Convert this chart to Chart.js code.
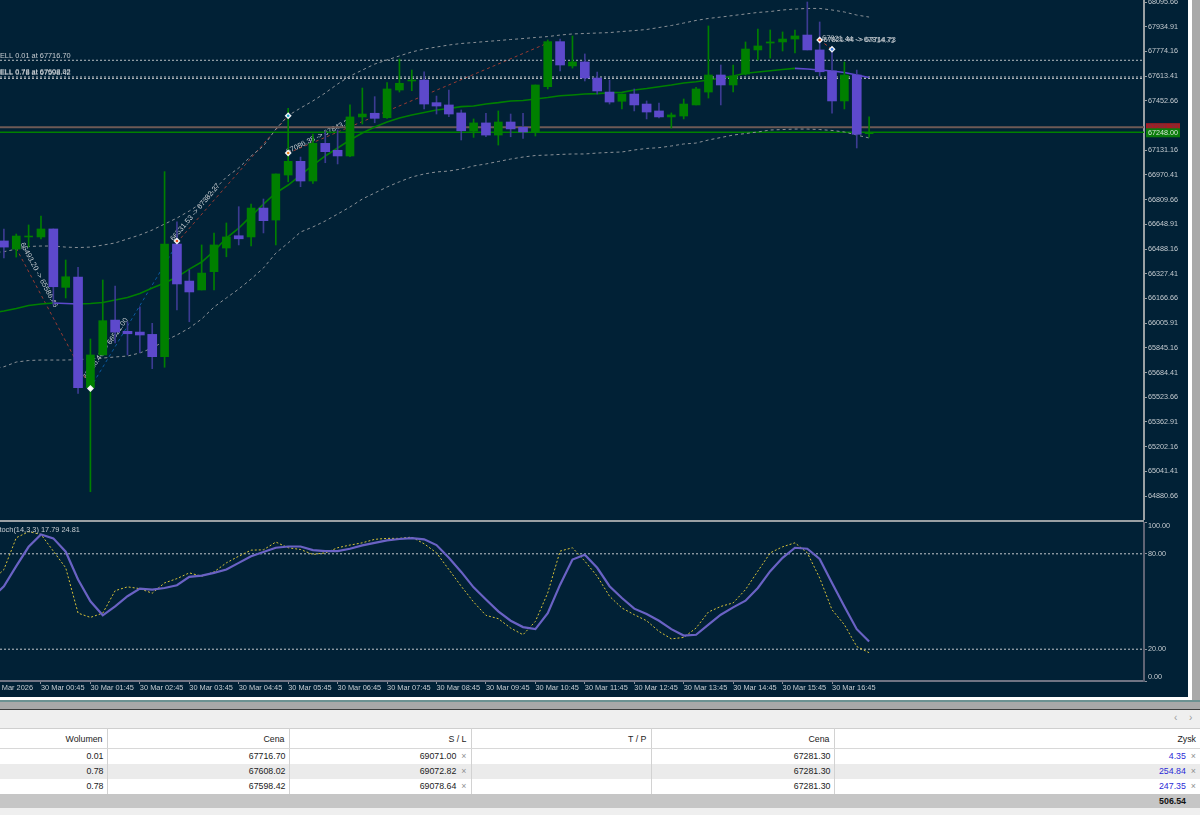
<!DOCTYPE html>
<html>
<head>
<meta charset="utf-8">
<title>Wykres</title>
<style>
  html, body { margin: 0; padding: 0; width: 1200px; height: 815px; overflow: hidden; background: #a9a9a9; }
  #panel { position: absolute; left: 0; top: 0; width: 1188px; height: 697px; background: #012136; overflow: hidden; }
  #edge { position: absolute; left: 1188px; top: 0; width: 4px; height: 700px; background: #fff; }
  #edgeBottom { position: absolute; left: 0; top: 697px; width: 1192px; height: 3px; background: #fff; }
  #teal { position: absolute; left: 0; top: 700px; width: 1200px; height: 2px; background: #6d9292; }
  #darkLine { position: absolute; left: 0; top: 709px; width: 1200px; height: 1px; background: #3f3f3f; }
  #tabs { position: absolute; left: 0; top: 710px; width: 1200px; height: 18px; background: #efefef; color: #9a9a9a; font: 10px "Liberation Sans"; }
  #tabs span { position: absolute; top: 2px; }
  canvas { position: absolute; left: -12px; }
  #price { top: 0; }
  #stoch { top: 522px; }
  #sep { position: absolute; left: 0; top: 520px; width: 1144px; height: 2px; background: #9aa0a4; z-index: 2; }
  #trades { position: absolute; left: 0; top: 728px; width: 1200px; border-collapse: collapse; table-layout: fixed;
    font: 8.8px "Liberation Sans"; color: #222; background: #fff; }
  #trades td { height: 15px; padding: 0 3px 0 0; text-align: right; border-right: 1px solid #d2d2d2; box-sizing: border-box; white-space: nowrap; overflow: hidden; }
  #trades td:last-child { border-right: 0; }
  #trades tr.head td { height: 20px; border-top: 1px solid #cfcfcf; border-bottom: 1px solid #d8d8d8; padding-right: 4px; }
  #trades tr.alt td { background: #ebebeb; }
  #trades tr.total td { height: 15px; background: #c6c6c6; border-right: 0; font-weight: bold; color: #111; }
  #trades i { font-style: normal; color: #8f8f8f; padding-left: 5px; padding-right: 1px; }
  #trades .zysk { color: #2b2bd6; }
  #foot { position: absolute; left: 0; top: 808px; width: 1200px; height: 7px; background: #efefef; }
</style>
</head>
<body>
<div id="panel">
  <canvas id="price" width="1200" height="520"></canvas>
  <canvas id="stoch" width="1200" height="175"></canvas>
  <div id="sep"></div>
</div>
<div id="edge"></div>
<div id="edgeBottom"></div>
<div id="teal"></div>
<div id="darkLine"></div>
<div id="tabs"><span style="left:1174px">&#8249;</span><span style="left:1189px">&#8250;</span></div>
<table id="trades">
  <colgroup>
    <col style="width:107px"><col style="width:182px"><col style="width:182px"><col style="width:180px"><col style="width:183px"><col style="width:366px">
  </colgroup>
  <tr class="head"><td>Wolumen</td><td>Cena</td><td>S / L</td><td>T / P</td><td>Cena</td><td>Zysk</td></tr>
  <tr><td>0.01</td><td>67716.70</td><td>69071.00<i>&#215;</i></td><td></td><td>67281.30</td><td class="zysk">4.35<i>&#215;</i></td></tr>
  <tr class="alt"><td>0.78</td><td>67608.02</td><td>69072.82<i>&#215;</i></td><td></td><td>67281.30</td><td class="zysk">254.84<i>&#215;</i></td></tr>
  <tr><td>0.78</td><td>67598.42</td><td>69078.64<i>&#215;</i></td><td></td><td>67281.30</td><td class="zysk">247.35<i>&#215;</i></td></tr>
  <tr class="total"><td></td><td></td><td></td><td></td><td></td><td style="padding-right:14px">506.54</td></tr>
</table>
<div id="foot"></div>

<script src="https://cdn.jsdelivr.net/npm/chart.js@4/dist/chart.umd.min.js"></script>
<script>
  // 15 minute candles, one per slot
  const candleOpen = [66541,66488,66567,66567,66619,66239,66306,65586,65799,66026,65953,65948,65933,65788,66521,66280,66222,66341,66495,66575,66567,66755,66677,66970,67059,66931,67176,67131,67094,67348,67372,67343,67523,67582,67588,67441,67426,67374,67256,67309,67230,67315,67281,67248,67545,67838,67680,67706,67601,67510,67450,67497,67432,67387,67348,67354,67426,67510,67621,67556,67627,67784,67829,67836,67855,67881,67784,67647,67452,67621,67239];
  const candleClose = [66501,66573,66573,66619,66243,66308,65586,65799,66022,65948,65937,65929,65788,66521,66261,66209,66332,66515,66567,66555,66755,66673,66977,67059,66931,67176,67122,67094,67348,67367,67339,67530,67567,67588,67432,67419,67367,67258,67309,67230,67315,67270,67250,67556,67838,67686,67706,67601,67517,67445,67497,67426,67380,67348,67361,67432,67530,67621,67556,67614,67790,67810,67836,67855,67875,67784,67642,67452,67621,67235,67248];
  const candleHigh = [66619,66586,66645,66703,66619,66417,66369,65903,66287,66248,66015,66113,66005,66992,66666,66352,66515,66593,66658,66764,66781,66814,66977,67404,67087,67237,67252,67263,67426,67536,67480,67571,67725,67653,67642,67484,67523,67393,67335,67372,67387,67367,67372,67556,67849,67855,67875,67758,67640,67588,67497,67530,67452,67439,67374,67465,67541,67940,67686,67686,67836,67920,67914,67901,67914,68096,67966,67805,67706,67653,67348];
  const candleLow = [66430,66436,66501,66554,66124,66170,65549,64909,65799,65877,65799,65814,65710,65719,66092,66015,66222,66222,66438,66515,66508,66593,66515,66926,66894,66916,67050,67042,67089,67302,67310,67339,67510,67519,67400,67367,67350,67198,67215,67219,67165,67219,67209,67224,67530,67647,67666,67582,67497,67432,67400,67387,67335,67341,67276,67335,67426,67471,67426,67510,67621,67719,67731,67777,67764,67784,67614,67372,67400,67146,67217];

  // indicator series start one slot before the first visible candle
  const bandMiddle = [66072,66085,66101,66121,66131,66137,66134,66131,66134,66140,66157,66173,66199,66235,66267,66306,66358,66404,66475,66560,66625,66703,66781,66853,66905,66970,67035,67094,67146,67198,67243,67282,67315,67341,67361,67377,67393,67403,67415,67419,67432,67441,67452,67455,67465,67474,67486,67491,67497,67500,67505,67508,67523,67533,67545,67556,67569,67577,67588,67601,67614,67632,67640,67649,67657,67664,67660,67653,67647,67637,67621,67605];
  const bandUpper = [66463,66471,66488,66505,66508,66508,66501,66498,66501,66514,66528,66554,66580,66612,66651,66690,66736,66788,66872,66957,67016,67094,67159,67269,67357,67406,67452,67504,67562,67614,67653,67692,67719,67745,67771,67790,67803,67816,67826,67832,67839,67845,67852,67858,67865,67871,67881,67888,67891,67894,67897,67904,67910,67917,67930,67943,67959,67976,67989,67998,68008,68018,68028,68034,68044,68050,68054,68054,68044,68031,68011,67998];
  const bandLower = [65708,65722,65753,65763,65766,65766,65766,65769,65773,65779,65786,65792,65812,65844,65890,65929,65974,66033,66111,66170,66228,66293,66365,66462,66528,66599,66632,66671,66716,66762,66814,66853,66892,66926,66957,66977,66990,66996,67009,67029,67042,67058,67074,67087,67097,67100,67104,67107,67107,67113,67117,67120,67133,67143,67148,67159,67172,67178,67198,67214,67230,67240,67250,67263,67266,67269,67269,67266,67260,67250,67230,67211];

  const stochMain = [52,59.6,72.2,84.4,92.2,89.7,81.3,63.8,50.1,41.3,46.9,53.3,58.1,57.5,58.5,60.2,65.5,66.3,68,70.1,74.3,78.5,81.1,83.8,84.6,84.6,82.3,81.7,81.7,83.2,85.3,86.9,88.4,89.3,89.9,89.1,85.5,77.5,68.6,58.9,51.2,43.8,37.9,33.9,32.6,42.7,60.6,76.4,79.4,71.2,59.6,52.2,45.5,42.1,37.9,32.6,28.6,29.1,35.4,41.7,46.3,50.5,58.5,69.1,77.5,83.8,83.2,76.8,61.7,46.9,32.6,24.81];
  const stochSignal = [62.7,70.1,90.1,93.9,92.2,81.7,71.2,42.7,40,42.7,56.8,59.2,58.1,55.2,61.7,64.4,68,65.9,68.6,74.3,78.5,82.3,82.5,87.4,83.8,82.7,79.6,80.6,83.8,85.5,86.9,89.1,89.7,89.7,90.5,86.3,80.6,70.1,59.6,49.7,41.3,39.2,33.3,29.1,37.5,55.4,81.7,83.8,75.4,65.9,53.3,45.9,41.7,37.9,31.2,26.5,27.4,33.3,43.4,46.9,49.1,57.5,69.1,80.6,84.4,86.9,80.6,64.8,44.8,35.4,21.7,17.79];

  const priceTicks = [68095.66,67934.91,67774.16,67613.41,67452.66,67131.16,66970.41,66809.66,66648.91,66488.16,66327.41,66166.66,66005.91,65845.16,65684.41,65523.66,65362.91,65202.16,65041.41,64880.66];
  const stochTicks = [0,20,80,100];
  const timeSlots = [-1,3,7,11,15,19,23,27,31,35,39,43,47,51,55,59,63,67];
  const timeLabels = ["30 Mar 2026","30 Mar 00:45","30 Mar 01:45","30 Mar 02:45","30 Mar 03:45","30 Mar 04:45","30 Mar 05:45","30 Mar 06:45","30 Mar 07:45","30 Mar 08:45","30 Mar 09:45","30 Mar 10:45","30 Mar 11:45","30 Mar 12:45","30 Mar 13:45","30 Mar 14:45","30 Mar 15:45","30 Mar 16:45"];

  const sellPrices = [67716.70,67608.02,67598.42];
  const bidPrice = 67281.30;
  const askPrice = 67248.00;

  // trade arrows: [slot, price] pairs
  const tradeSell1 = [[1,66493],[7,65586]];
  const tradeBuy1 = [[7,65586],[14,66521]];
  const tradeSell2 = [[14,66531],[23,67356]];
  const tradeSell3 = [[23,67113],[44,67829]];
  const tradeSell4 = [[66,67849],[67,67788]];
  const markerSlots = [7,14,23,23,66,67];
  const markerPrices = [65580,66541,67356,67113,67849,67788];
  const markerColors = ["#ffffff","#e8501e","#18a0c8","#e8801e","#e8501e","#3a7ae0"];

  const GREEN = "#008000";
  const PURPLE = "#5d49cc";
  const WICK_PURPLE = "#3c3b92";
  const TEXT = "#c6ccd1";
  const FONT_NAME = '"Liberation Sans", sans-serif';

  // x axis runs in slots, page x = 3.9 + 12.36 * slot, canvas starts 12px left of the page
  const X_MIN = -1.286;
  const X_MAX = 92.24;
  const AXIS_W = 44;

  function candleData(values, up) {
    const out = [];
    for (let i = 0; i < candleOpen.length; i++) {
      if ((candleClose[i] >= candleOpen[i]) == up) {
        out.push({ x: i, y: values(i) });
      }
    }
    return out;
  }
  const bodyOf = (i) => [candleOpen[i], candleClose[i]];
  const wickOf = (i) => [candleLow[i], candleHigh[i]];
  const series = (arr) => arr.map((v, i) => ({ x: i - 1, y: v }));
  const flat = (p) => [{ x: X_MIN, y: p }, { x: X_MAX, y: p }];
  const pairs = (arr) => arr.map((p) => ({ x: p[0], y: p[1] }));

  function lineSet(data, color, width, dash, extra) {
    return Object.assign({
      type: "line", data: data, borderColor: color, borderWidth: width, borderDash: dash || [],
      pointRadius: 0, tension: 0, fill: false, order: 10,
    }, extra || {});
  }
  function barSet(data, color, thick, order) {
    return { type: "bar", data: data, backgroundColor: color, borderWidth: 0, barThickness: thick, grouped: false, order: order };
  }

  // notes written on the chart, drawn behind the candles like in the terminal
  const notes = [
    { text: "SELL 0.01 at 67716.70", slot: -0.72, price: 67748, angle: 0 },
    { text: "SELL 0.78 at 67608.02", slot: -0.72, price: 67640, angle: 0 },
    { text: "SELL 0.78 at 67598.42", slot: -0.72, price: 67637, angle: 0 },
    { text: "66493.20 -> 65586.46", slot: 1.46, price: 66528, angle: 62 },
    { text: "65586.46 -> 66521.00", slot: 6.56, price: 65649, angle: -55 },
    { text: "66531.53 -> 67382.27", slot: 13.6, price: 66547, angle: -50 },
    { text: "67086.38 -> 67843.22", slot: 22.9, price: 67120, angle: -26 },
    { text: "67821.44 -> 67814.73", slot: 66.2, price: 67860, angle: 2 },
    { text: "67821.44 -> 67714.73", slot: 66.3, price: 67852, angle: 0 },
  ];

  const notesPlugin = {
    id: "notes",
    beforeDatasetsDraw(chart) {
      const ctx = chart.ctx;
      const a = chart.chartArea;
      ctx.save();
      ctx.beginPath();
      ctx.rect(a.left, a.top, a.right - a.left, a.bottom - a.top);
      ctx.clip();
      ctx.font = "7.4px " + FONT_NAME;
      ctx.fillStyle = TEXT;
      ctx.textBaseline = "middle";
      notes.forEach((n) => {
        ctx.save();
        ctx.translate(chart.scales.x.getPixelForValue(n.slot), chart.scales.y.getPixelForValue(n.price));
        ctx.rotate((n.angle * Math.PI) / 180);
        ctx.fillText(n.text, 0, 0);
        ctx.restore();
      });
      ctx.restore();
    },
    afterDraw(chart) {
      const ctx = chart.ctx;
      const y = chart.scales.y;
      const x0 = chart.chartArea.right + 2;
      const tag = (price, color, textColor, top, h) => {
        ctx.fillStyle = color;
        ctx.fillRect(x0, top, 34, h);
        ctx.fillStyle = textColor;
        ctx.font = "7.2px " + FONT_NAME;
        ctx.textBaseline = "middle";
        ctx.fillText(price.toFixed(2), x0 + 2, top + h / 2);
      };
      tag(bidPrice, "#a51c24", "#6a3a40", y.getPixelForValue(bidPrice) - 4, 7);
      tag(askPrice, "#0b7d0b", "#d6e6d6", y.getPixelForValue(askPrice) - 4, 9);
    },
  };

  const stochPlugin = {
    id: "stochTexts",
    afterDraw(chart) {
      const ctx = chart.ctx;
      const a = chart.chartArea;
      ctx.save();
      ctx.fillStyle = TEXT;
      ctx.font = "7.2px " + FONT_NAME;
      ctx.textBaseline = "middle";
      ctx.fillText("100.00", a.right + 4, a.top + 4);
      ctx.fillText("0.00", a.right + 4, a.bottom - 4);
      ctx.font = "7.4px " + FONT_NAME;
      ctx.fillText("Stoch(14,3,3) 17.79 24.81", 6.5, a.top + 8);
      ctx.restore();
    },
  };

  const fitY = (scale) => { scale.width = AXIS_W; scale.paddingTop = 0; scale.paddingBottom = 0; };
  const fitX = (scale) => { scale.height = 16; scale.paddingLeft = 0; scale.paddingRight = 0; };

  new Chart(document.getElementById("price").getContext("2d"), {
    data: {
      datasets: [
        lineSet(series(bandUpper), "#8b9197", 1, [3, 3]),
        lineSet(series(bandLower), "#8b9197", 1, [3, 3]),
        lineSet(series(bandMiddle), GREEN, 1.6, [], {
          segment: { borderColor: (c) => (c.p1.parsed.y < c.p0.parsed.y ? PURPLE : GREEN) },
        }),
        lineSet(flat(sellPrices[0]), "#b9bec2", 1, [2, 2]),
        lineSet(flat(sellPrices[1]), "#b9bec2", 1, [2, 2]),
        lineSet(flat(sellPrices[2]), "#b9bec2", 1, [2, 2]),
        lineSet(flat(bidPrice), "#6d5a56", 2),
        lineSet(flat(askPrice), GREEN, 1.5),
        lineSet(pairs(tradeSell1), "#9a3b33", 1, [3, 3]),
        lineSet(pairs(tradeBuy1), "#0b5aa0", 1, [3, 3]),
        lineSet(pairs(tradeSell2), "#9a3b33", 1, [3, 3]),
        lineSet(pairs(tradeSell3), "#9a3b33", 1, [3, 3]),
        lineSet(pairs(tradeSell4), "#c04030", 1, [3, 3]),
        barSet(candleData(wickOf, true), GREEN, 1, 6),
        barSet(candleData(wickOf, false), WICK_PURPLE, 1, 6),
        barSet(candleData(bodyOf, true), GREEN, 8, 4),
        barSet(candleData(bodyOf, false), PURPLE, 9, 4),
        {
          type: "scatter",
          data: markerSlots.map((s, i) => ({ x: s, y: markerPrices[i] })),
          pointStyle: "rectRot", pointRadius: 3.5, pointBorderWidth: 0,
          pointBackgroundColor: "#f2f4f6", order: 2,
        },
        {
          type: "scatter",
          data: markerSlots.map((s, i) => ({ x: s, y: markerPrices[i] })),
          pointStyle: "circle", pointRadius: 1.3, pointBorderWidth: 0,
          pointBackgroundColor: markerColors, order: 1,
        },
      ],
    },
    options: {
      responsive: false,
      animation: false,
      layout: { padding: 0, autoPadding: false },
      plugins: { legend: { display: false }, tooltip: { enabled: false } },
      scales: {
        x: { type: "linear", display: false, min: X_MIN, max: X_MAX, offset: false },
        y: {
          position: "right", min: 64725, max: 68109,
          afterBuildTicks: (scale) => { scale.ticks = priceTicks.map((v) => ({ value: v })); },
          afterFit: fitY,
          grid: { drawOnChartArea: false, tickLength: 3, tickColor: "#9aa0a4" },
          border: { color: "#9aa0a4", width: 2 },
          ticks: {
            color: TEXT, padding: 1, autoSkip: false, maxRotation: 0,
            font: { size: 7.2, family: FONT_NAME },
            callback: (v) => Number(v).toFixed(2),
          },
        },
      },
    },
    plugins: [notesPlugin],
  });

  new Chart(document.getElementById("stoch").getContext("2d"), {
    data: {
      datasets: [
        lineSet(flat(80), "#c4c8cc", 1, [2, 2]),
        lineSet(flat(20), "#c4c8cc", 1, [2, 2]),
        lineSet(series(stochSignal), "#d8c23a", 1, [2, 2], { order: 5 }),
        lineSet(series(stochMain), "#6a62c4", 2.2, [], { order: 1 }),
      ],
    },
    options: {
      responsive: false,
      animation: false,
      layout: { padding: 0, autoPadding: false },
      plugins: { legend: { display: false }, tooltip: { enabled: false } },
      scales: {
        x: {
          type: "linear", min: X_MIN, max: X_MAX, offset: false,
          afterBuildTicks: (scale) => { scale.ticks = timeSlots.map((v) => ({ value: v })); },
          afterFit: fitX,
          grid: { drawOnChartArea: false, tickLength: 3, tickColor: "#8a8f9a" },
          border: { color: "#6f7484", width: 2 },
          ticks: {
            color: TEXT, align: "start", padding: 0, autoSkip: false, maxRotation: 0, minRotation: 0,
            font: { size: 7.4, family: FONT_NAME },
            callback: (v, i) => timeLabels[i],
          },
        },
        y: {
          position: "right", min: 0, max: 100,
          afterBuildTicks: (scale) => { scale.ticks = stochTicks.map((v) => ({ value: v })); },
          afterFit: fitY,
          grid: { drawOnChartArea: false, tickLength: 3, tickColor: "#8a8f9a" },
          border: { color: "#5f6474", width: 2 },
          ticks: {
            color: TEXT, padding: 1, autoSkip: false,
            font: { size: 7.2, family: FONT_NAME },
            callback: (v) => (v == 0 || v == 100 ? "" : Number(v).toFixed(2)),
          },
        },
      },
    },
    plugins: [stochPlugin],
  });
</script>
</body>
</html>
